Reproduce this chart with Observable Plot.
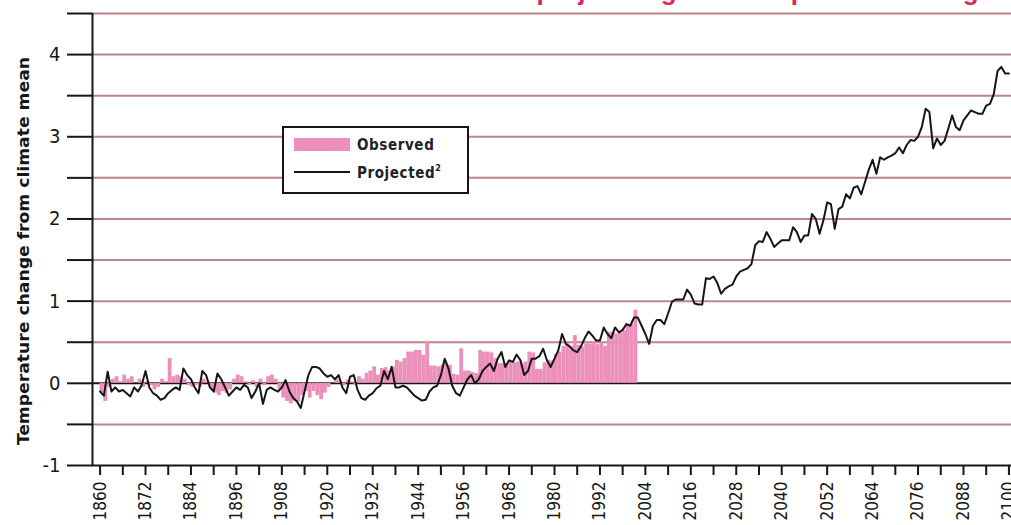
<!DOCTYPE html>
<html><head><meta charset="utf-8">
<script src="https://cdn.jsdelivr.net/npm/d3@7"></script>
<script src="https://cdn.jsdelivr.net/npm/@observablehq/plot@0.6"></script>
<style>
html,body{margin:0;padding:0;background:#fff;overflow:hidden;width:1011px;height:525px;}
#wrap{position:relative;width:1011px;height:525px;overflow:hidden;}
#chart{position:absolute;left:0;top:0;width:1030px;height:525px;}
#chart svg{max-width:none !important;}
#overlay{position:absolute;left:0;top:0;}
</style></head><body>
<div id="wrap">
  <div id="chart"></div>
  <svg id="overlay" width="1011" height="525"></svg>
</div>
<script>
// ---------- data ----------
const titleText = "Observed and projected global temperature change";
const yLabel = "Temperature change from climate mean";
const legendLabels = ["Observed", "Projected"];

const startYear = 1860;
// observed anomaly, 1860-2001 (one bar per year)
const observed = [
 -0.11,-0.22,-0.05,0.05,0.08,0.02,0.10,0.05,0.08,0.00,
 0.05,-0.05,0.02,-0.03,-0.08,-0.05,0.05,0.02,0.30,0.08,
 0.10,0.08,0.05,-0.03,-0.05,-0.02,-0.05,0.05,0.02,-0.08,
 -0.12,-0.15,-0.10,-0.12,-0.08,0.05,0.10,0.08,0.02,-0.02,
 0.03,-0.05,0.05,-0.03,0.08,0.10,0.05,-0.08,-0.18,-0.22,
 -0.25,-0.22,-0.23,-0.15,-0.10,-0.18,-0.10,-0.15,-0.20,-0.12,
 -0.05,0.00,0.05,0.03,-0.03,0.04,0.02,-0.02,0.08,0.05,
 0.12,0.15,0.20,0.10,0.18,0.19,0.15,0.20,0.28,0.26,
 0.30,0.38,0.38,0.40,0.40,0.34,0.50,0.21,0.21,0.20,
 0.22,0.24,0.22,0.11,0.10,0.42,0.15,0.15,0.13,0.12,
 0.40,0.38,0.38,0.37,0.30,0.24,0.24,0.24,0.26,0.25,
 0.26,0.24,0.26,0.38,0.37,0.17,0.17,0.25,0.28,0.27,
 0.35,0.38,0.45,0.48,0.45,0.58,0.46,0.44,0.48,0.48,
 0.50,0.47,0.49,0.45,0.62,0.62,0.60,0.62,0.64,0.70,
 0.72,0.89
];
// projected (model) anomaly, 1860-2100
const projected = [
 -0.10,-0.15,0.14,-0.10,-0.05,-0.10,-0.08,-0.12,-0.16,-0.05,
 -0.10,-0.02,0.15,-0.05,-0.12,-0.15,-0.20,-0.18,-0.12,-0.08,
 -0.05,-0.08,0.18,0.10,0.05,-0.05,-0.12,0.15,0.10,-0.05,
 -0.10,0.12,0.05,-0.05,-0.15,-0.10,-0.05,-0.08,-0.02,-0.05,
 -0.18,-0.10,0.00,-0.25,-0.08,-0.05,-0.08,-0.10,-0.05,0.04,
 -0.10,-0.18,-0.22,-0.30,-0.10,0.10,0.20,0.20,0.18,0.12,
 0.08,0.10,0.05,0.10,-0.05,-0.12,0.08,0.10,-0.08,-0.18,
 -0.20,-0.15,-0.12,-0.06,-0.03,0.15,0.05,0.20,-0.05,-0.05,
 -0.03,-0.05,-0.10,-0.15,-0.18,-0.21,-0.20,-0.10,-0.05,-0.03,
 0.10,0.30,0.18,-0.03,-0.12,-0.15,-0.05,0.05,0.10,0.00,
 0.05,0.15,0.20,0.24,0.15,0.30,0.38,0.20,0.28,0.26,
 0.35,0.28,0.10,0.15,0.30,0.30,0.33,0.42,0.28,0.20,
 0.30,0.40,0.60,0.48,0.45,0.40,0.38,0.45,0.55,0.63,
 0.58,0.52,0.52,0.68,0.60,0.55,0.68,0.62,0.65,0.72,
 0.70,0.80,0.80,0.70,0.60,0.48,0.70,0.77,0.77,0.72,
 0.85,0.99,1.02,1.02,1.02,1.14,1.08,0.97,0.96,0.96,
 1.28,1.27,1.30,1.22,1.09,1.15,1.18,1.20,1.30,1.36,
 1.38,1.40,1.45,1.68,1.73,1.72,1.84,1.76,1.66,1.70,
 1.74,1.74,1.74,1.90,1.84,1.72,1.80,1.80,2.06,2.00,
 1.82,1.98,2.20,2.18,1.88,2.12,2.15,2.30,2.25,2.38,
 2.40,2.30,2.45,2.60,2.72,2.55,2.75,2.72,2.75,2.77,
 2.80,2.87,2.80,2.90,2.96,2.95,3.00,3.12,3.34,3.30,
 2.86,2.98,2.90,2.95,3.10,3.26,3.12,3.08,3.20,3.26,
 3.32,3.30,3.28,3.28,3.38,3.40,3.52,3.80,3.85,3.77,
 3.77
];
const xTickYears = [1860,1866,1872,1878,1884,1890,1896,1902,1908,1914,1920,1926,1932,1938,1944,1950,1956,1962,1968,1974,1980,1986,1992,1998,2004,2010,2016,2022,2028,2034,2040,2046,2052,2058,2064,2070,2076,2082,2088,2094,2100];
const xLabelYears = [1860,1872,1884,1896,1908,1920,1932,1944,1956,1968,1980,1992,2004,2016,2028,2040,2052,2064,2076,2088,2100];
const yTicks = [-1,-0.5,0,0.5,1,1.5,2,2.5,3,3.5,4,4.5];
const yLabelValues = [-1,0,1,2,3,4];
const gridLevels = [-0.5,0.5,1,1.5,2,2.5,3,3.5,4,4.5];
const xDomain = [1858, 2102];
const yDomain = [-1, 4.5];

// ---------- build tables ----------
const obsData = observed.map((v, i) => ({year: startYear + i, value: v}));
const projData = projected.map((v, i) => ({year: startYear + i, value: v}));

const FONT = '"Liberation Sans Narrow","DejaVu Sans Condensed","Roboto Condensed","Liberation Sans",sans-serif';
const PINK = "#ec8fba";
const INK = "#161616";
const GRID = "#bd8585";

const chart = Plot.plot({
  width: 1030, height: 525,
  marginLeft: 92, marginRight: 14, marginTop: 13, marginBottom: 60,
  x: {domain: xDomain, axis: null},
  y: {domain: yDomain, axis: null},
  style: {fontFamily: FONT, background: "transparent", overflow: "visible", color: INK, maxWidth: "none"},
  marks: [
    Plot.ruleY(gridLevels, {stroke: GRID, strokeWidth: 2}),
    Plot.ruleY([0], {stroke: INK, strokeWidth: 2}),
    Plot.rectY(obsData, {x1: "year", x2: d => d.year + 1, y: "value", fill: PINK}),
    Plot.line(projData, {x: "year", y: "value", stroke: INK, strokeWidth: 2}),
    Plot.ruleY([yDomain[0]], {stroke: INK, strokeWidth: 2}),
    Plot.ruleX([xDomain[0]], {stroke: INK, strokeWidth: 2}),
    Plot.axisY({ticks: yTicks, tickSize: 25, tickPadding: 7, stroke: INK, strokeWidth: 2,
      tickFormat: d => yLabelValues.includes(d) ? String(d) : "", fontSize: 20, label: null}),
    Plot.axisX({ticks: xTickYears, tickSize: 10, tickPadding: 6, tickRotate: -90, stroke: INK, strokeWidth: 2,
      tickFormat: d => xLabelYears.includes(d) ? String(d) : "", fontSize: 17, label: null})
  ]
});
document.getElementById("chart").appendChild(chart);

// ---------- title (cut off at top), y label and legend ----------
const ov = d3.select("#overlay");
ov.append("text").attr("x", 993).attr("y", 0).attr("text-anchor", "end")
  .attr("font-family", '"Liberation Sans",Arial,sans-serif').attr("font-weight", "bold")
  .attr("font-size", 26).attr("fill", "#e2245c").text(titleText);

ov.append("text").attr("transform", "translate(29,445) rotate(-90)")
  .attr("x", 0).attr("y", 0).attr("text-anchor", "start")
  .attr("font-family", FONT).attr("font-weight", "bold").attr("font-size", 16)
  .attr("fill", INK).attr("textLength", 388).attr("lengthAdjust", "spacingAndGlyphs").text(yLabel);

const lg = ov.append("g").attr("font-family", FONT).attr("font-size", 15).attr("font-weight", "bold").attr("fill", "#222");
lg.append("rect").attr("x", 283).attr("y", 127).attr("width", 185).attr("height", 66)
  .attr("fill", "#fff").attr("stroke", INK).attr("stroke-width", 2);
lg.append("rect").attr("x", 294).attr("y", 138).attr("width", 56).attr("height", 13).attr("fill", PINK);
lg.append("line").attr("x1", 294).attr("x2", 350).attr("y1", 172).attr("y2", 172).attr("stroke", INK).attr("stroke-width", 2);
lg.append("text").attr("x", 357).attr("y", 150).attr("letter-spacing", 0.6).text(legendLabels[0]);
const pt = lg.append("text").attr("x", 357).attr("y", 178).attr("letter-spacing", 0.6).text(legendLabels[1]);
pt.append("tspan").attr("font-size", 9).attr("dy", -7).text("2");
</script>
</body></html>
